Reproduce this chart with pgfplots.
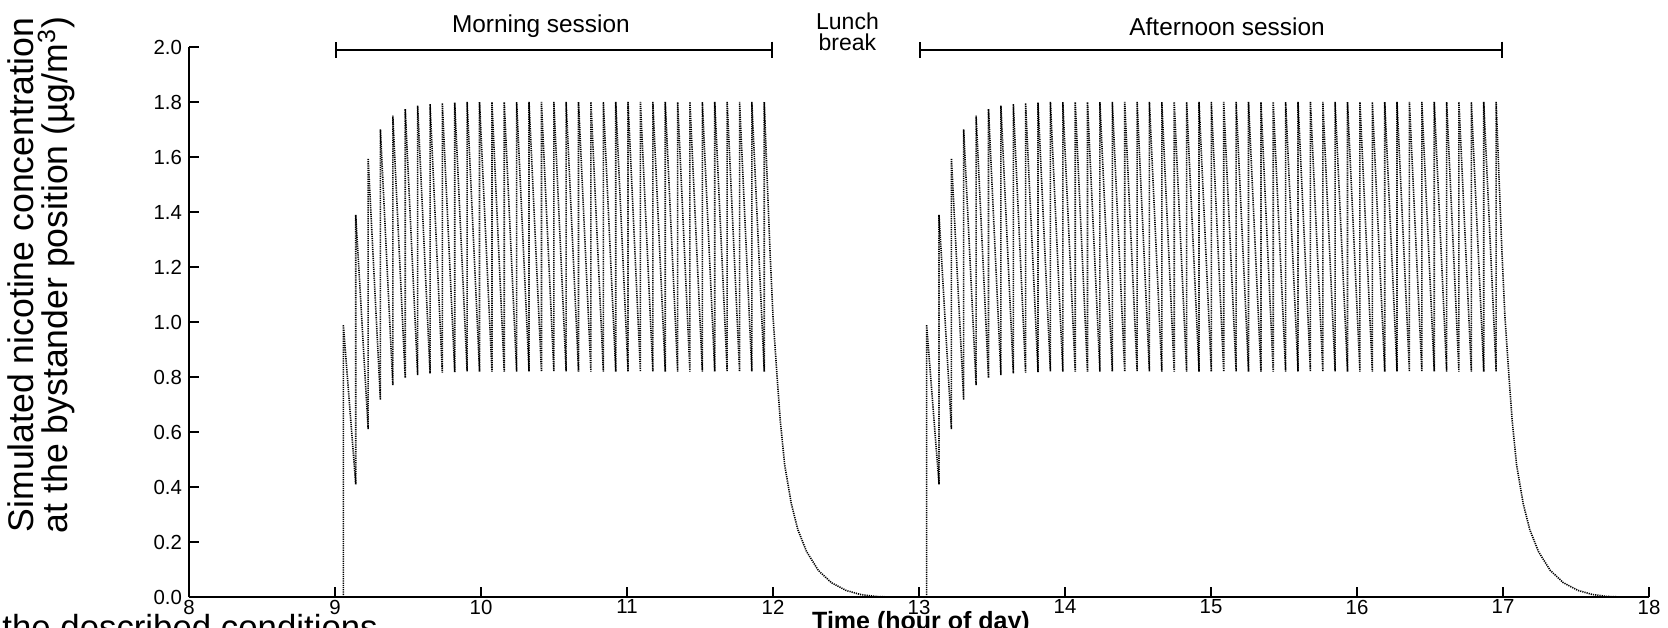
\documentclass[border=0pt]{standalone}
\usepackage{fontspec}
\setmainfont{Liberation Sans}
\usepackage{pgfplots}
\pgfplotsset{compat=1.18}
\usetikzlibrary{arrows.meta}

\begin{document}
\begin{tikzpicture}
\useasboundingbox (0,0) rectangle (834pt,313.5pt);
\begin{axis}[
  at={(94.5pt,15pt)}, anchor=south west,
  scale only axis, width=730pt, height=275pt,
  xmin=8, xmax=18, ymin=0, ymax=2,
  axis lines*=left,
  axis line style={line width=1.3pt},
  xtick={8,9,10,11,12,13,14,15,16,17,18},
  ytick={0,0.2,0.4,0.6,0.8,1.0,1.2,1.4,1.6,1.8,2.0},
  tick align=inside, major tick length=5pt,
  every tick/.style={black, line width=1.3pt},
  tick label style={font=\fontsize{10.2}{12}\selectfont},
  xticklabel style={inner sep=0pt, yshift=-1.2pt},
  yticklabel style={/pgf/number format/.cd, fixed, fixed zerofill, precision=1},
  /pgf/number format/assume math mode=true,
  clip=false,
]
% morning session
\addplot[black, line width=0.8pt, dash pattern=on 0.6pt off 0.5pt, no markers] coordinates {
(9.057,0) (9.057,0.99)
(9.142,0.41) (9.142,1.39)
(9.227,0.61) (9.227,1.595)
(9.311,0.717) (9.311,1.70)
(9.396,0.77) (9.396,1.75)
(9.481,0.797) (9.481,1.775)
(9.566,0.807) (9.566,1.787)
(9.651,0.813) (9.651,1.793)
(9.735,0.816) (9.735,1.796)
(9.820,0.818) (9.820,1.798)
(9.905,0.82) (9.905,1.80)
(9.990,0.82) (9.990,1.80)
(10.075,0.82) (10.075,1.80)
(10.159,0.82) (10.159,1.80)
(10.244,0.82) (10.244,1.80)
(10.329,0.82) (10.329,1.80)
(10.414,0.82) (10.414,1.80)
(10.499,0.82) (10.499,1.80)
(10.583,0.82) (10.583,1.80)
(10.668,0.82) (10.668,1.80)
(10.753,0.82) (10.753,1.80)
(10.838,0.82) (10.838,1.80)
(10.923,0.82) (10.923,1.80)
(11.007,0.82) (11.007,1.80)
(11.092,0.82) (11.092,1.80)
(11.177,0.82) (11.177,1.80)
(11.262,0.82) (11.262,1.80)
(11.347,0.82) (11.347,1.80)
(11.431,0.82) (11.431,1.80)
(11.516,0.82) (11.516,1.80)
(11.601,0.82) (11.601,1.80)
(11.686,0.82) (11.686,1.80)
(11.771,0.82) (11.771,1.80)
(11.855,0.82) (11.855,1.80)
(11.940,0.82) (11.940,1.80)
(11.96,1.52) (11.98,1.25) (12.00,1.02) (12.028,0.80) (12.05,0.64)
(12.08,0.48) (12.125,0.34) (12.17,0.245) (12.23,0.165) (12.31,0.097)
(12.40,0.052) (12.50,0.024) (12.60,0.009) (12.70,0.002) (12.80,0) (13.052,0)
};
% afternoon session
\addplot[black, line width=0.8pt, dash pattern=on 0.6pt off 0.5pt, no markers] coordinates {
(13.052,0) (13.052,0.99)
(13.137,0.41) (13.137,1.39)
(13.222,0.61) (13.222,1.595)
(13.306,0.717) (13.306,1.70)
(13.391,0.77) (13.391,1.75)
(13.476,0.797) (13.476,1.775)
(13.561,0.807) (13.561,1.787)
(13.646,0.813) (13.646,1.793)
(13.730,0.816) (13.730,1.796)
(13.815,0.818) (13.815,1.798)
(13.900,0.82) (13.900,1.80)
(13.985,0.82) (13.985,1.80)
(14.070,0.82) (14.070,1.80)
(14.154,0.82) (14.154,1.80)
(14.239,0.82) (14.239,1.80)
(14.324,0.82) (14.324,1.80)
(14.409,0.82) (14.409,1.80)
(14.494,0.82) (14.494,1.80)
(14.578,0.82) (14.578,1.80)
(14.663,0.82) (14.663,1.80)
(14.748,0.82) (14.748,1.80)
(14.833,0.82) (14.833,1.80)
(14.918,0.82) (14.918,1.80)
(15.002,0.82) (15.002,1.80)
(15.087,0.82) (15.087,1.80)
(15.172,0.82) (15.172,1.80)
(15.257,0.82) (15.257,1.80)
(15.342,0.82) (15.342,1.80)
(15.426,0.82) (15.426,1.80)
(15.511,0.82) (15.511,1.80)
(15.596,0.82) (15.596,1.80)
(15.681,0.82) (15.681,1.80)
(15.766,0.82) (15.766,1.80)
(15.850,0.82) (15.850,1.80)
(15.935,0.82) (15.935,1.80)
(16.020,0.82) (16.020,1.80)
(16.105,0.82) (16.105,1.80)
(16.190,0.82) (16.190,1.80)
(16.274,0.82) (16.274,1.80)
(16.359,0.82) (16.359,1.80)
(16.444,0.82) (16.444,1.80)
(16.529,0.82) (16.529,1.80)
(16.614,0.82) (16.614,1.80)
(16.698,0.82) (16.698,1.80)
(16.783,0.82) (16.783,1.80)
(16.868,0.82) (16.868,1.80)
(16.953,0.82) (16.953,1.80)
(16.973,1.52) (16.993,1.25) (17.013,1.02) (17.041,0.80) (17.063,0.64)
(17.093,0.48) (17.138,0.34) (17.183,0.245) (17.243,0.165) (17.323,0.097)
(17.413,0.052) (17.513,0.024) (17.613,0.009) (17.713,0.002) (17.813,0)
};
% session bars and labels
\draw[line width=1pt, {Bar[width=8pt]}-{Bar[width=8pt]}] (axis cs:9,1.99) -- (axis cs:12,1.99);
\draw[line width=1pt, {Bar[width=8pt]}-{Bar[width=8pt]}] (axis cs:13,1.99) -- (axis cs:17,1.99);
\node[font=\fontsize{12.2}{13}\selectfont] at (axis cs:10.41,2.075) {Morning session};
\node[font=\fontsize{12.2}{13}\selectfont] at (axis cs:15.11,2.075) {Afternoon session};
\node[font=\fontsize{11.5}{10.8}\selectfont, align=center] at (axis cs:12.51,2.055) {Lunch\\break};
\end{axis}
\node[rotate=90, align=center, font=\fontsize{17.8}{17}\selectfont] at (20.7pt,176pt)
  {Simulated nicotine concentration\\at the bystander position (µg/m\textsuperscript{3})};
\node[anchor=base, inner sep=0pt, font=\bfseries\fontsize{12.5}{14}\selectfont] at (460.5pt,-1pt) {Time (hour of day)};
\node[anchor=base west, inner sep=0pt, font=\fontsize{17.4}{20}\selectfont] at (1pt,-6pt) {the described conditions};
\end{tikzpicture}
\end{document}
